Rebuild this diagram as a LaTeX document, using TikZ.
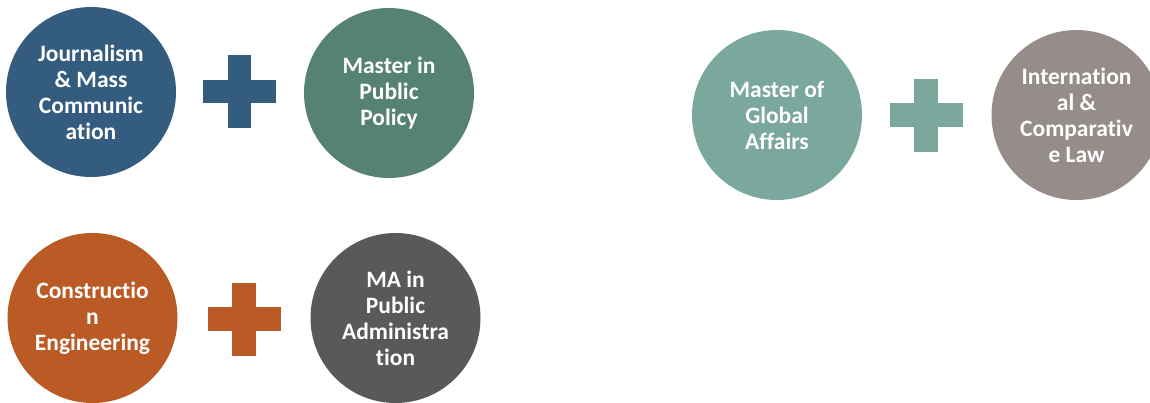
\documentclass[tikz,border=0pt]{standalone}
\usepackage{fontspec}
\setmainfont[RawFeature={-liga;-dlig}]{Carlito}
\definecolor{cblue}{HTML}{345C7E}
\definecolor{cgreen}{HTML}{568274}
\definecolor{corange}{HTML}{BA5A24}
\definecolor{cgrey}{HTML}{595959}
\definecolor{cteal}{HTML}{7BA89C}
\definecolor{cbrown}{HTML}{968C8A}
\tikzset{
  bubble/.style={circle, draw=none, fill=#1, minimum size=170pt, inner sep=0pt,
    text=white, align=center, font=\fontsize{23.5}{26}\selectfont\bfseries},
  plusbar/.style={fill=#1},
}
\newcommand{\plussign}[3]{% x, y, colour
  \fill[plusbar=#3] (#1-36.5,#2-11.75) rectangle (#1+36.5,#2+11.75);
  \fill[plusbar=#3] (#1-11.75,#2-36.5) rectangle (#1+11.75,#2+36.5);
}
\begin{document}
\begin{tikzpicture}[x=1pt,y=-1pt]
\useasboundingbox (0,0) rectangle (1150,402);
\clip (0,0) rectangle (1150,402);
\node[bubble=cblue] (jmc) at (91,92) {Journalism\\\& Mass\\Communic\\ation};
\plussign{239.5}{91.5}{cblue}
\node[bubble=cgreen] (mpp) at (389,93) {Master in\\Public\\Policy};
\node[bubble=corange] (ce) at (92.5,318) {Constructio\\n\\Engineering};
\plussign{244}{319}{corange}
\node[bubble=cgrey] (mpa) at (395.5,318) {MA in\\Public\\Administra\\tion};
\node[bubble=cteal] (mga) at (777,115) {Master of\\Global\\Affairs};
\plussign{926}{115}{cteal}
\node[bubble=cbrown] (icl) at (1076.5,115) {Internation\\al \&\\Comparativ\\e Law};
\end{tikzpicture}
\end{document}
